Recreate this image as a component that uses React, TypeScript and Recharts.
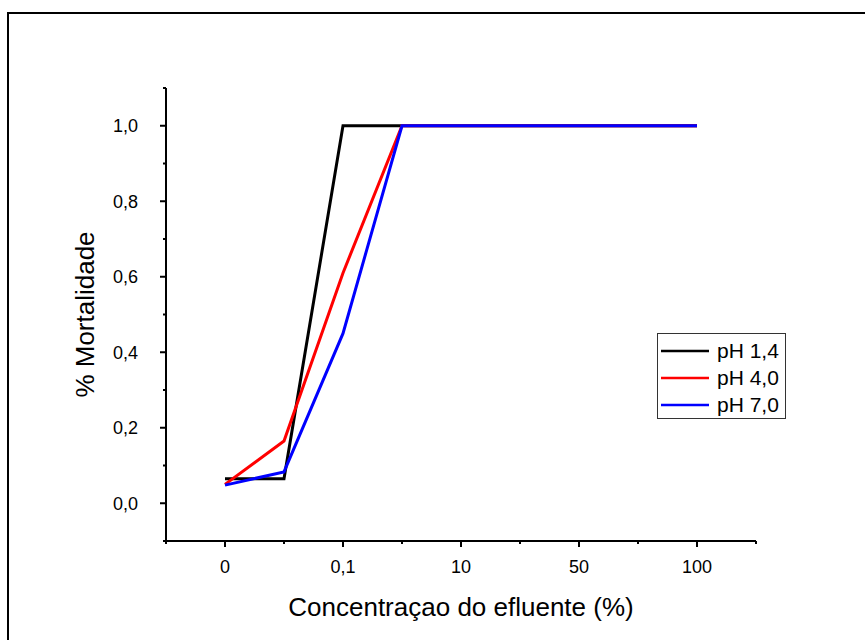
import { LineChart, Line, XAxis, YAxis, Legend } from "recharts";

// x positions on the (evenly spaced) concentration axis
const positions = [0, 1, 2, 3, 4, 6, 8];
const ph14 = [0.065, 0.065, 1, 1, 1, 1, 1];
const ph40 = [0.05, 0.165, 0.61, 1, 1, 1, 1];
const ph70 = [0.048, 0.083, 0.45, 1, 1, 1, 1];

const xTicks = [-1, 0, 1, 2, 3, 4, 5, 6, 7, 8, 9];
const xTickLabels: Record<number, string> = { 0: "0", 2: "0,1", 4: "10", 6: "50", 8: "100" };
const yTicks = [-0.1, 0, 0.1, 0.2, 0.3, 0.4, 0.5, 0.6, 0.7, 0.8, 0.9, 1.0, 1.1];
const yMajor = [0, 0.2, 0.4, 0.6, 0.8, 1.0];

const data = positions.map((x, i) => ({ x, ph14: ph14[i], ph40: ph40[i], ph70: ph70[i] }));

const FONT = "'Liberation Sans', Arial, sans-serif";
const X_MARGIN = 10;
const Y_MARGIN = 10;

const XTick = (props: any) => {
  const { x, y, payload } = props;
  const label = xTickLabels[payload.value];
  const major = label !== undefined;
  const axisY = y - X_MARGIN;
  return (
    <g>
      <line x1={x} x2={x} y1={axisY} y2={axisY + (major ? 6 : 3)} stroke="#000" strokeWidth={2} />
      {major && (
        <text x={x} y={axisY + 32} textAnchor="middle" fontSize={18} fill="#000" fontFamily={FONT}>
          {label}
        </text>
      )}
    </g>
  );
};

const YTick = (props: any) => {
  const { x, y, payload } = props;
  const v = payload.value;
  const major = yMajor.some((m) => Math.abs(m - v) < 1e-6);
  const axisX = x + Y_MARGIN;
  return (
    <g>
      <line x1={axisX} x2={axisX - (major ? 6 : 3)} y1={y} y2={y} stroke="#000" strokeWidth={2} />
      {major && (
        <text x={axisX - 28} y={y + 6.5} textAnchor="end" fontSize={18} fill="#000" fontFamily={FONT}>
          {v.toFixed(1).replace(".", ",")}
        </text>
      )}
    </g>
  );
};

const renderLegend = (props: any) => (
  <div
    style={{
      border: "1px solid #333",
      width: 124,
      height: 81,
      paddingTop: 3,
      paddingLeft: 3,
      boxSizing: "content-box",
      background: "#fff",
      fontFamily: FONT,
    }}
  >
    {(props.payload || []).map((e: any) => (
      <div key={e.value} style={{ display: "flex", alignItems: "center", height: 27 }}>
        <svg width={48} height={4}>
          <line x1={0} x2={48} y1={2} y2={2} stroke={e.color} strokeWidth={2.5} />
        </svg>
        <span style={{ marginLeft: 8, fontSize: 21, color: "#000", whiteSpace: "nowrap" }}>{e.value}</span>
      </div>
    ))}
  </div>
);

export default function App() {
  return (
    <div style={{ position: "absolute", left: 0, top: 0, width: 865, height: 640, overflow: "hidden", background: "#fff" }}>
      <div
        style={{
          position: "absolute",
          left: 7,
          top: 12,
          width: 858,
          height: 628,
          borderTop: "2px solid #000",
          borderLeft: "2px solid #000",
          boxSizing: "border-box",
        }}
      />
      <div style={{ position: "absolute", left: 0, top: 0 }}>
        <LineChart
          width={865}
          height={640}
          data={data}
          margin={{ top: 88, right: 109, bottom: 39, left: 66 }}
          style={{ fontFamily: FONT }}
        >
          <XAxis
            dataKey="x"
            type="number"
            domain={[-1, 9]}
            ticks={xTicks}
            interval={0}
            height={60}
            tickSize={0}
            tickMargin={X_MARGIN}
            tick={XTick}
            axisLine={{ stroke: "#000", strokeWidth: 2 }}
            label={{
              content: ({ viewBox }: any) => (
                <text
                  x={viewBox.x + viewBox.width / 2}
                  y={viewBox.y + 75}
                  textAnchor="middle"
                  fontSize={26}
                  fill="#000"
                  fontFamily={FONT}
                >
                  Concentraçao do efluente (%)
                </text>
              ),
            }}
          />
          <YAxis
            type="number"
            domain={[-0.1, 1.1]}
            ticks={yTicks}
            interval={0}
            width={100}
            tickSize={0}
            tickMargin={Y_MARGIN}
            tick={YTick}
            axisLine={{ stroke: "#000", strokeWidth: 2 }}
            label={{
              content: ({ viewBox }: any) => {
                const cx = viewBox.x + 19;
                const cy = viewBox.y + viewBox.height / 2;
                return (
                  <text
                    x={cx}
                    y={cy}
                    transform={`rotate(-90 ${cx} ${cy})`}
                    textAnchor="middle"
                    dominantBaseline="central"
                    fontSize={26}
                    fill="#000"
                    fontFamily={FONT}
                  >
                    % Mortalidade
                  </text>
                );
              },
            }}
          />
          <Legend
            content={renderLegend}
            layout="vertical"
            align="center"
            verticalAlign="middle"
            wrapperStyle={{ left: 657, top: 333, width: 128, height: 85, right: "auto", bottom: "auto" }}
          />
          <Line type="linear" dataKey="ph14" name="pH 1,4" stroke="#000000" strokeWidth={3} dot={false} isAnimationActive={false} />
          <Line type="linear" dataKey="ph40" name="pH 4,0" stroke="#ff0000" strokeWidth={3} dot={false} isAnimationActive={false} />
          <Line type="linear" dataKey="ph70" name="pH 7,0" stroke="#0000ff" strokeWidth={3} dot={false} isAnimationActive={false} />
        </LineChart>
      </div>
    </div>
  );
}
